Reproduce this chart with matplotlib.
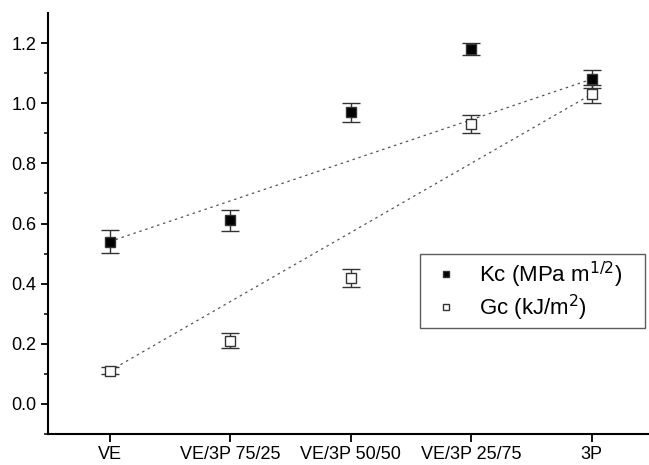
import matplotlib.pyplot as plt
import numpy as np

plt.rcParams['font.family'] = ['Liberation Sans', 'DejaVu Sans']

categories = ['VE', 'VE/3P 75/25', 'VE/3P 50/50', 'VE/3P 25/75', '3P']
kc = [0.54, 0.61, 0.97, 1.18, 1.08]
kc_err = [0.037, 0.035, 0.032, 0.02, 0.03]
gc = [0.11, 0.21, 0.42, 0.93, 1.03]
gc_err = [0.012, 0.025, 0.03, 0.03, 0.03]

x = np.arange(len(categories))

fig = plt.figure(figsize=(6.49, 4.65), dpi=100)
ax = fig.add_axes([0.0732, 0.0667, 0.9268, 0.9053])

# dotted trend lines between the end points
ax.plot([x[0], x[-1]], [kc[0], kc[-1]], ls=(0, (2, 3)), color='#555555', lw=0.9, zorder=1)
ax.plot([x[0], x[-1]], [gc[0], gc[-1]], ls=(0, (2, 3)), color='#555555', lw=0.9, zorder=1)

ax.errorbar(x, kc, yerr=kc_err, fmt='s', color='black', ms=7, mfc='black', mec='#333333',
            ecolor='#333333', elinewidth=1, capsize=6.5, capthick=1, label='Kc (MPa m$^{1/2}$)', zorder=3)
ax.errorbar(x, gc, yerr=gc_err, fmt='s', color='black', ms=6.5, mfc='white', mec='#333333',
            mew=1, ecolor='#333333', elinewidth=1, capsize=6.5, capthick=1, label='Gc (kJ/m$^2$)', zorder=3)

ax.set_xlim(-0.516, 4.476)
ax.set_ylim(-0.1, 1.3)
ax.set_xticks(x)
ax.set_xticklabels(categories, fontsize=13)
ax.set_yticks(np.arange(0, 1.21, 0.2))
ax.set_yticklabels(['0.0', '0.2', '0.4', '0.6', '0.8', '1.0', '1.2'], fontsize=13)
ax.set_yticks(np.arange(-0.1, 1.3, 0.2), minor=True)

for s in ['top', 'right']:
    ax.spines[s].set_visible(False)
for s in ['left', 'bottom']:
    ax.spines[s].set_linewidth(1.5)
ax.tick_params(axis='both', which='major', direction='out', length=5, width=1.3, pad=3)
ax.tick_params(axis='y', which='minor', direction='out', length=3, width=1.1)
ax.tick_params(axis='x', which='major', length=6)

handles, labels = ax.get_legend_handles_labels()
handles = [h[0] for h in handles]
leg = ax.legend(handles, labels, loc='upper left',
                bbox_to_anchor=(420 / 649, 137 / 465, 225 / 649, 74 / 465),
                bbox_transform=fig.transFigure, mode='expand', fontsize=16,
                frameon=True, fancybox=False, edgecolor='#333333', markerscale=0.7,
                handlelength=1.8, handletextpad=0.6, borderpad=0.25, labelspacing=0.12,
                borderaxespad=0)
leg.get_frame().set_linewidth(1.0)

fig.savefig('out.png', dpi=100)
